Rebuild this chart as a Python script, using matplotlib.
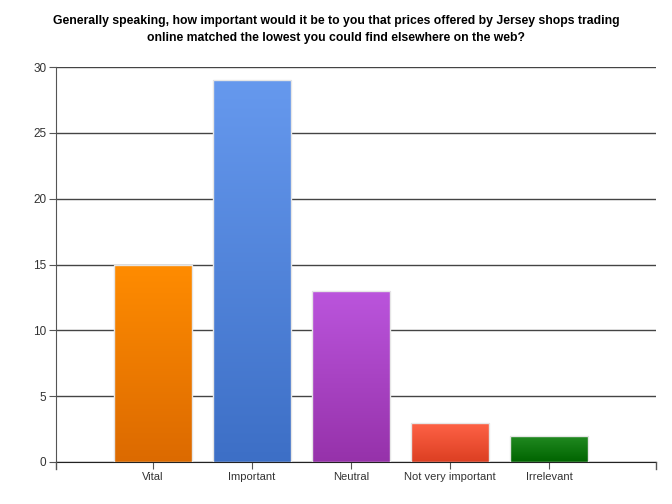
import numpy as np
import matplotlib
matplotlib.use("Agg")
import matplotlib.pyplot as plt
from matplotlib.colors import LinearSegmentedColormap

categories = ["Vital", "Important", "Neutral", "Not very important", "Irrelevant"]
counts = [15, 29, 13, 3, 2]
top_colors = ["#ff8c00", "#6699ee", "#bb55dd", "#ff6347", "#228b22"]
bottom_colors = ["#dc6a00", "#3d6fc6", "#9632aa", "#dc3f22", "#006400"]

plt.rcParams["font.family"] = ["Liberation Sans", "DejaVu Sans"]

fig = plt.figure(figsize=(6.72, 5.04), dpi=100)
ax = fig.add_axes([56 / 672, 42 / 504, 600 / 672, 395 / 504])

x = np.arange(len(categories))
bars = ax.bar(x, counts, width=0.79, color="none", edgecolor="#e6e6e6",
              linewidth=1, zorder=3)

grad = np.linspace(1, 0, 256).reshape(-1, 1)
for b, c_top, c_bot in zip(bars, top_colors, bottom_colors):
    cmap = LinearSegmentedColormap.from_list("g", [c_bot, c_top])
    x0, w, h = b.get_x(), b.get_width(), b.get_height()
    im = ax.imshow(grad, cmap=cmap, aspect="auto", extent=[x0, x0 + w, 0, h],
                   zorder=2, vmin=0, vmax=1)
    im.set_clip_path(b)

ax.set_xlim(-0.98, 5.08)
ax.set_ylim(0, 30)
ax.set_yticks(range(0, 31, 5))
ax.set_xticks(x)
ax.set_xticklabels(categories)
ax.grid(axis="y", color="#444444", linewidth=1, zorder=1)
ax.set_axisbelow(True)

for s in ["top", "right"]:
    ax.spines[s].set_visible(False)
ax.spines["left"].set_color("#555555")
ax.spines["bottom"].set_color("#222222")
ax.tick_params(axis="y", length=5, color="#555555", labelsize=8.5,
               labelcolor="#333333", pad=2)
ax.tick_params(axis="x", length=5, color="#555555", labelsize=8,
               labelcolor="#333333", pad=2)
# end ticks on the category axis
for xe in ax.get_xlim():
    ax.plot([xe, xe], [0, -0.55], color="#555555", linewidth=1,
            clip_on=False, zorder=4)

fig.text(0.5, 1 - 29.5 / 504,
         "Generally speaking, how important would it be to you that prices offered by Jersey shops trading\n"
         "online matched the lowest you could find elsewhere on the web?",
         ha="center", va="center", fontsize=8.8, fontweight="bold",
         linespacing=1.45)

fig.savefig("out.png", dpi=100)
